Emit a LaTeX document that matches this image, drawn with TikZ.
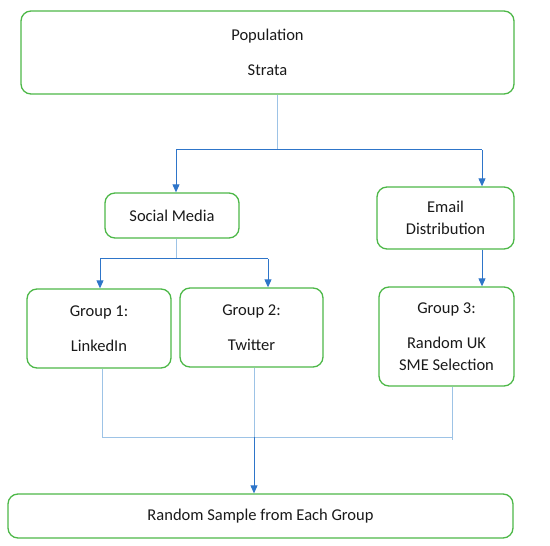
\documentclass[tikz,border=0pt]{standalone}
\usepackage{fontspec}
\setmainfont{Carlito}
\usetikzlibrary{arrows.meta}
\definecolor{boxgreen}{HTML}{4DB848}
\definecolor{lightline}{HTML}{9DC3E6}
\definecolor{darkline}{HTML}{2E75C9}
\definecolor{txt}{HTML}{1A1A1A}
\begin{document}
\begin{tikzpicture}[x=1pt,y=1pt,
  box/.style={draw=boxgreen,line width=1.3pt,rounded corners=10pt,fill=white,align=center,text=txt,font=\fontsize{16.5}{22.5}\selectfont,inner sep=0pt},
  thin/.style={draw=lightline,line width=0.8pt},
  thick/.style={draw=darkline,line width=1pt},
  arr/.style={thick,-{Triangle[length=8pt,width=7pt]}}]
\useasboundingbox (0,0) rectangle (550,546);
\node[box,minimum width=493pt,minimum height=83pt] (pop) at (267.5,493.5) {Population\\[12.5pt]Strata};
\node[box,minimum width=134pt,minimum height=45pt] (soc) at (172,330.5) {Social Media};
\node[box,minimum width=137pt,minimum height=62pt] (email) at (445.5,328) {Email\\Distribution};
\node[box,minimum width=144pt,minimum height=79pt] (g1) at (99,217.5) {Group 1:\\[12.5pt]LinkedIn};
\node[box,minimum width=143pt,minimum height=79pt] (g2) at (251.5,218.5) {Group 2:\\[12.5pt]Twitter};
\node[box,minimum width=135pt,minimum height=99pt] (g3) at (446.5,209.5) {Group 3:\\[12.5pt]Random UK\\SME Selection};
\node[box,minimum width=505pt,minimum height=44pt] (rand) at (260.5,30) {Random Sample from Each Group};
% top branch
\coordinate (b1) at (277,396);
\coordinate (b1l) at (176,396);
\coordinate (b1r) at (482,396);
\draw[thin] (pop.south -| b1) -- (b1);
\draw[thick] (b1l) -- (b1r);
\draw[arr] (b1l) -- (soc.north -| b1l);
\draw[arr] (b1r) -- (email.north -| b1r);
% social branch
\coordinate (b2) at (176,287);
\coordinate (b2l) at (100,287);
\coordinate (b2r) at (268,287);
\draw[thin] (soc.south -| b2) -- (b2);
\draw[thick] (b2l) -- (b2r);
\draw[arr] (b2l) -- (g1.north -| b2l);
\draw[arr] (b2r) -- (g2.north -| b2r);
% email to group 3
\draw[arr] (email.south -| b1r) -- (g3.north -| b1r);
% bottom merge
\coordinate (m1) at (102,109);
\coordinate (m2) at (254,109);
\coordinate (m3) at (452,109);
\coordinate (m3e) at (452,106);
\draw[thin] (g1.south -| m1) -- (m1) -- (m3);
\draw[thin] (g2.south -| m2) -- (m2);
\draw[thin] (g3.south -| m3) -- (m3e);
\draw[arr] (m2) -- (rand.north -| m2);
\end{tikzpicture}
\end{document}
